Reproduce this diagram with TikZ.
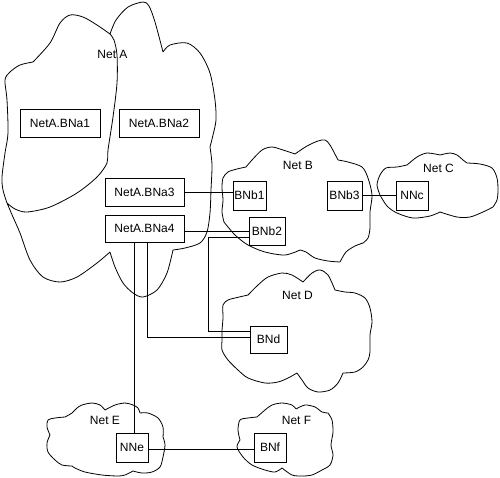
\documentclass[tikz,border=0pt]{standalone}
\usepackage{fontspec}
\setmainfont{Liberation Sans}
\begin{document}
\begin{tikzpicture}[x=1pt,y=-1pt,
  cl/.style={line width=0.8pt, line join=round},
  conn/.style={line width=0.8pt},
  box/.style={draw, line width=0.8pt, inner sep=0pt, font=\fontsize{12}{14}\selectfont},
  lbl/.style={inner sep=0pt, font=\fontsize{12}{14}\selectfont}]
\useasboundingbox (0,0) rectangle (500,477);
% ---------- Net A ----------
\draw[cl]
 plot[smooth] coordinates {(110,34) (116,20) (128,7) (143,2) (149,6) (155,22) (163,52)}
 plot[smooth] coordinates {(163,52) (170,45) (187,43) (200,53) (210,73) (215,100) (216,120) (213,135) (210,147)}
 plot[smooth] coordinates {(210,147) (212,165) (211,190) (210,213) (207,232) (200,243) (185,248) (173,250)}
 plot[smooth] coordinates {(173,250) (167,273) (157,290) (143,297) (133,293) (123,283) (115,267) (110,252)}
 plot[smooth] coordinates {(110,252) (97,263) (77,277) (60,282) (43,277) (30,260) (20,233) (13,217) (7,203)}
 plot[smooth] coordinates {(7,203) (3,190) (2,177) (5,153) (8,133) (7,100) (5,80) (10,72) (20,65) (33,62)}
 plot[smooth] coordinates {(33,62) (50,43) (60,23) (70,15) (83,17) (97,25) (110,34)}
 plot[smooth] coordinates {(110,34) (114,40) (117,55) (117,83) (113,117) (108,150) (107,163) (97,177) (77,193) (50,207) (27,212) (15,209) (7,203)};
% ---------- Net B ----------
\draw[cl]
 plot[smooth] coordinates {(224,222) (222,212) (223,200) (222,188) (223,178) (228,172) (237,169) (246,167)}
 plot[smooth] coordinates {(246,167) (252,160) (262,150) (272,147) (283,150) (295,154)}
 plot[smooth] coordinates {(295,154) (307,146) (318,141) (325,140) (330,145) (338,160)}
 plot[smooth] coordinates {(338,160) (348,162) (362,167) (368,178) (372,195) (370,212) (370,228) (368,238) (363,243)}
 plot[smooth] coordinates {(363,243) (355,246) (346,252) (340,262)}
 plot[smooth] coordinates {(340,262) (328,261) (315,258) (306,252) (300,250)}
 plot[smooth] coordinates {(300,250) (285,255) (265,252) (248,245) (235,235) (224,222)};
% ---------- Net C ----------
\draw[cl]
 plot[smooth] coordinates {(380,195) (377,185) (380,175) (386,168) (397,167) (407,165)}
 plot[smooth] coordinates {(407,165) (417,157) (427,153) (440,155)}
 plot[smooth] coordinates {(440,155) (450,153) (457,155) (463,160) (467,163)}
 plot[smooth] coordinates {(467,163) (480,164) (492,168) (497,178) (498,190) (497,200) (493,207)}
 plot[smooth] coordinates {(493,207) (483,212) (470,217) (457,217) (440,212)}
 plot[smooth] coordinates {(440,212) (430,216) (413,218) (397,213) (387,206) (380,195)};
% ---------- Net D ----------
\draw[cl]
 plot[smooth] coordinates {(222,330) (223,318) (223,305) (228,300) (235,298) (248,295)}
 plot[smooth] coordinates {(248,295) (258,285) (268,277) (282,273) (292,275) (303,282)}
 plot[smooth] coordinates {(303,282) (312,273) (320,270) (328,275) (335,290)}
 plot[smooth] coordinates {(335,290) (345,292) (355,293) (365,298) (370,308) (372,322) (370,335) (370,352) (368,360) (363,367) (355,372) (343,373)}
 plot[smooth] coordinates {(343,373) (338,383) (330,390) (318,392) (308,388) (302,380) (297,373)}
 plot[smooth] coordinates {(297,373) (288,378) (278,382) (265,383) (248,378) (238,370) (228,360) (222,350) (222,340) (222,330)};
% ---------- Net E ----------
\draw[cl]
 plot[smooth] coordinates {(50,435) (47,427) (48,420) (55,418) (65,417)}
 plot[smooth] coordinates {(65,417) (72,413) (77,408) (82,405) (92,403) (100,405) (105,410)}
 plot[smooth] coordinates {(105,410) (115,405) (125,403) (133,405) (138,408) (140,413)}
 plot[smooth] coordinates {(140,413) (148,413) (158,418) (163,427) (163,437)}
 plot[smooth] coordinates {(163,437) (165,445) (163,457) (160,467) (152,472) (142,473) (133,471)}
 plot[smooth] coordinates {(133,471) (125,475) (118,476) (102,475) (85,472) (75,468) (72,466)}
 plot[smooth] coordinates {(72,466) (62,465) (55,460) (48,452) (47,443) (50,435)};
% ---------- Net F ----------
\draw[cl]
 plot[smooth] coordinates {(240,440) (238,430) (240,420) (248,418) (257,417)}
 plot[smooth] coordinates {(257,417) (265,410) (272,405) (282,403) (292,405) (296,409)}
 plot[smooth] coordinates {(296,409) (305,405) (315,407) (322,412) (328,413)}
 plot[smooth] coordinates {(328,413) (332,420) (333,432) (331,445) (333,455) (330,465) (322,470)}
 plot[smooth] coordinates {(322,470) (312,475) (302,476) (292,475) (282,468)}
 plot[smooth] coordinates {(282,468) (275,472) (265,470) (252,465) (243,457) (237,447) (240,440)};
% ---------- labels ----------
\node[lbl] (lA) at (112.5,54) {Net A};
\node[lbl] (lB) at (298,165) {Net B};
\node[lbl] (lC) at (438.5,168) {Net C};
\node[lbl] (lD) at (297.5,295) {Net D};
\node[lbl] (lE) at (105,420) {Net E};
\node[lbl] (lF) at (296.5,420) {Net F};
% ---------- boxes ----------
\node[box, minimum width=80pt, minimum height=28pt] (BNa1) at (60,123) {NetA.BNa1};
\node[box, minimum width=80pt, minimum height=28pt] (BNa2) at (159,123) {NetA.BNa2};
\node[box, minimum width=79pt, minimum height=28pt] (BNa3) at (144.5,192) {NetA.BNa3};
\node[box, minimum width=79pt, minimum height=27pt] (BNa4) at (144.5,228.5) {NetA.BNa4};
\node[box, minimum width=33pt, minimum height=29pt] (BNb1) at (249.5,195.5) {BNb1};
\node[box, minimum width=36pt, minimum height=28pt] (BNb2) at (267,231) {BNb2};
\node[box, minimum width=35pt, minimum height=29pt] (BNb3) at (344.5,195.5) {BNb3};
\node[box, minimum width=32pt, minimum height=29pt] (NNc) at (412,195.5) {NNc};
\node[box, minimum width=37pt, minimum height=27pt] (BNd) at (268.5,339.5) {BNd};
\node[box, minimum width=32pt, minimum height=29pt] (NNe) at (132,447.5) {NNe};
\node[box, minimum width=32pt, minimum height=29pt] (BNf) at (270,447.5) {BNf};
% ---------- connectors ----------
\draw[conn] (BNa3.east |- 0,192.5) -- (BNb1.west |- 0,192.5);
\draw[conn] (BNa4.east |- 0,231) -- (BNb2.west |- 0,231);
\draw[conn] (BNb2.west |- 0,237) -- (208,237) |- (BNd.west |- 0,331);
\draw[conn] (BNa4.south -| 147,0) |- (BNd.west |- 0,337);
\draw[conn] (BNa4.south -| 134,0) -- (NNe.north -| 134,0);
\draw[conn] (BNb3.east) -- (NNc.west);
\draw[conn] (NNe.east |- 0,449) -- (BNf.west |- 0,449);
\end{tikzpicture}
\end{document}
